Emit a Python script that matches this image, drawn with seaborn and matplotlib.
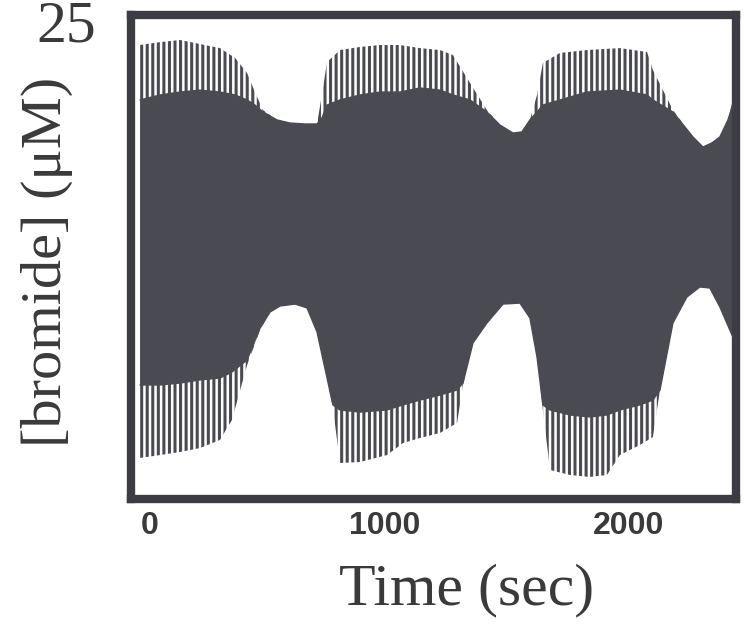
import numpy as np
import pandas as pd
import matplotlib
matplotlib.use("Agg")
import matplotlib.pyplot as plt
import matplotlib.transforms as mtransforms
import seaborn as sns

# ---- data (time in s, [bromide] in uM) ----
t_upper = [0, 82, 164, 245, 327, 389, 438, 470, 503, 560, 613, 675, 724, 744, 765,
           818, 900, 982, 1063, 1145, 1227, 1280, 1350, 1419, 1472, 1526, 1562, 1595,
           1624, 1648, 1718, 1828, 1963, 2074, 2098, 2180, 2262, 2303, 2339, 2372,
           2405, 2425]
upper_tip = [23.45, 23.60, 23.71, 23.50, 23.29, 22.78, 22.00, 21.02, 20.09, 19.58,
             19.42, 19.37, 19.37, 20.87, 22.57, 23.19, 23.35, 23.45, 23.45, 23.29,
             23.19, 22.93, 21.49, 20.09, 19.32, 18.90, 18.96, 19.58, 20.87, 22.52,
             23.04, 23.19, 23.29, 23.09, 22.16, 20.09, 18.70, 18.18, 18.39, 18.70,
             19.58, 20.61]
upper_core = [20.61, 20.87, 21.02, 21.12, 21.02, 20.87, 20.61, 20.35, 19.99, 19.58,
              19.42, 19.37, 19.37, 19.68, 20.35, 20.61, 20.87, 21.02, 21.02, 21.23,
              21.12, 20.87, 20.61, 19.99, 19.32, 18.90, 18.96, 19.58, 19.99, 20.35,
              20.61, 21.02, 21.12, 20.87, 20.61, 19.99, 18.70, 18.18, 18.39, 18.70,
              19.58, 20.35]

t_lower = [0, 82, 164, 245, 327, 376, 438, 491, 532, 573, 634, 683, 724, 765, 789,
           818, 900, 1010, 1076, 1145, 1227, 1297, 1321, 1362, 1419, 1485, 1554,
           1595, 1624, 1648, 1677, 1759, 1840, 1910, 1963, 2045, 2098, 2127, 2180,
           2237, 2290, 2331, 2372, 2425]
lower_core = [5.89, 5.89, 5.99, 6.15, 6.25, 6.56, 7.18, 8.83, 9.66, 9.97, 10.07,
              9.87, 8.63, 6.25, 4.86, 4.60, 4.49, 4.60, 4.86, 5.11, 5.37, 5.63, 5.99,
              8.06, 9.09, 10.07, 10.12, 9.35, 7.33, 4.86, 4.60, 4.34, 4.24, 4.34,
              4.60, 4.86, 5.11, 5.63, 9.09, 10.43, 10.95, 10.90, 9.92, 8.37]
lower_tip = [2.12, 2.27, 2.43, 2.63, 3.05, 4.08, 6.92, 8.73, 9.66, 9.97, 10.07,
             9.87, 8.63, 6.25, 4.70, 1.86, 1.91, 2.27, 2.89, 3.15, 3.41, 3.93, 5.89,
             8.06, 9.09, 10.07, 10.12, 9.35, 7.33, 4.60, 1.50, 1.24, 1.14, 1.24,
             2.27, 2.79, 3.20, 5.63, 9.09, 10.43, 10.95, 10.90, 9.92, 8.37]

x_ticks = [0, 1000, 2000]
x_tick_labels = ["0", "1000", "2000"]
y_top_label = "25"

DARK = "#4a4a53"
FRAME = "#3c3c44"
TEXT = "#3a3a3a"

sns.set_theme(style="white")
plt.rcParams["hatch.linewidth"] = 2.2
plt.rcParams["hatch.color"] = DARK

fig = plt.figure(figsize=(7.44, 6.24), dpi=100)
ax = fig.add_axes([131 / 744, 1 - 499 / 624, (736 - 131) / 744, (499 - 15) / 624])

up = pd.DataFrame({"t": t_upper, "core": upper_core, "tip": upper_tip})
lo = pd.DataFrame({"t": t_lower, "core": lower_core, "tip": lower_tip})

# solid core of the oscillation
ax.fill(np.r_[up["t"], lo["t"][::-1]], np.r_[up["core"], lo["core"][::-1]],
        color=DARK, lw=0, zorder=2)
# spiky fringes (individual oscillation peaks)
ax.fill_between(up["t"], up["core"], up["tip"], facecolor="none",
                edgecolor=DARK, hatch="|||", lw=0, zorder=2)
ax.fill_between(lo["t"], lo["tip"], lo["core"], facecolor="none",
                edgecolor=DARK, hatch="|||", lw=0, zorder=2)
sns.lineplot(data=up, x="t", y="core", ax=ax, color=DARK, lw=1, zorder=3)
sns.lineplot(data=lo, x="t", y="core", ax=ax, color=DARK, lw=1, zorder=3)

ax.set_xlim(-37, 2438)
ax.set_ylim(0, 25)
ax.set_xticks(x_ticks)
ax.set_xticklabels(x_tick_labels, fontfamily="Liberation Sans", fontsize=23,
                   fontweight="bold", color=TEXT)
ax.tick_params(axis="x", length=0, pad=9)
lab0 = ax.get_xticklabels()[0]
lab0.set_transform(lab0.get_transform() +
                   mtransforms.ScaledTranslation(10 / 100, 0, fig.dpi_scale_trans))
ax.set_yticks([])
ax.set_xlabel("")
ax.set_ylabel("")
for s in ax.spines.values():
    s.set_visible(True)
    s.set_color(FRAME)
    s.set_linewidth(6)

fig.text(66 / 744, 1 - 28 / 624, y_top_label, fontfamily="Liberation Serif",
         fontsize=43, color=TEXT, ha="center", va="center")
fig.text(47 / 744, 1 - 262 / 624, "[bromide] (μM)", fontfamily="Liberation Serif",
         fontsize=42, color=TEXT, ha="center", va="center", rotation=90)
fig.text(467 / 744, 1 - 590 / 624, "Time (sec)", fontfamily="Liberation Serif",
         fontsize=43, color=TEXT, ha="center", va="center")

fig.savefig("out.png", dpi=100)
